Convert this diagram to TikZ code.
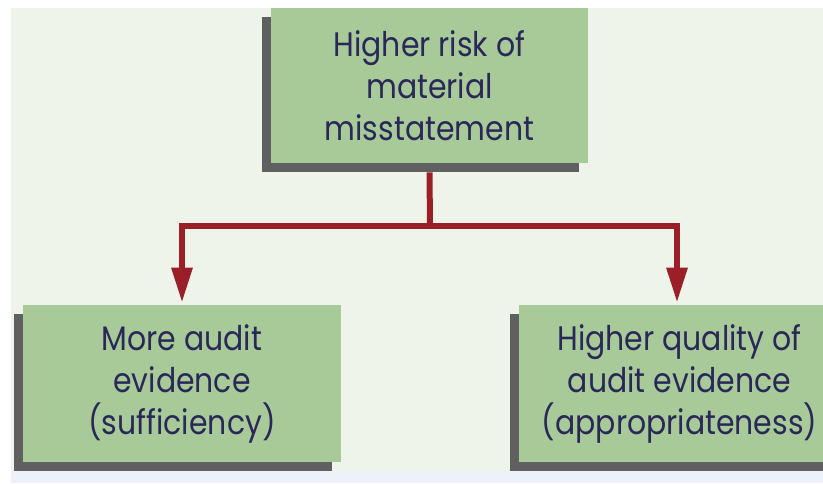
\documentclass[tikz,border=0pt]{standalone}
\usepackage{fontspec}
\setmainfont{Poppins}[FakeStretch=0.88]
\usepackage{xcolor}
\usepackage{tikz}
\usetikzlibrary{arrows.meta,shadows}

\definecolor{panel}{HTML}{EEF4EA}
\definecolor{strip}{HTML}{EDF1F8}
\definecolor{boxgreen}{HTML}{A8C998}
\definecolor{shade}{HTML}{606060}
\definecolor{riskred}{HTML}{9B1F28}
\definecolor{ink}{HTML}{2A2858}

\begin{document}
\begin{tikzpicture}[
  x=.5pt,y=-.5pt,
  level/.style={fill=boxgreen,align=center,text=ink,inner sep=0pt,
    font=\fontsize{17}{21}\selectfont,minimum height=78.5pt,
    drop shadow={shadow xshift=-4.75pt,shadow yshift=-4.5pt,
      fill=shade,opacity=1}},
  flow/.style={draw=riskred,line width=3pt},
  tip/.style={flow,-{Triangle[width=10pt,length=17.5pt]}}
]
\clip (0,0) rectangle (823,483);
\fill[white] (0,0) rectangle (823,483);
\fill[strip] (11,8) rectangle (823,483);
\fill[panel] (12,8) rectangle (823,471);

\node[level,minimum width=158.5pt,minimum height=77.5pt] (risk) at (429.5,85.5)
  {Higher risk of\\material\\misstatement};
\node[level,minimum width=159pt] (more) at (182,383.5)
  {More audit\\evidence\\(sufficiency)};
\node[level,minimum width=160.5pt] (quality) at (679.5,383.5)
  {Higher quality of\\audit evidence\\(appropriateness)};

\coordinate (fork) at (430,226);
\draw[flow] ([yshift=-4.5pt]risk.south) -- (fork);
\draw[tip] (fork) -| ([yshift=1pt]more.north);
\draw[tip] (fork) -| ([xshift=-1.25pt,yshift=1pt]quality.north);
\end{tikzpicture}
\end{document}
